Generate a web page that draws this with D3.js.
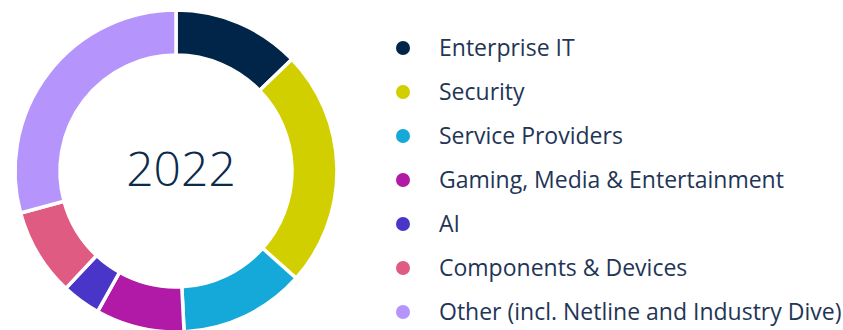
<!DOCTYPE html>
<html>
<head>
<meta charset="utf-8">
<script src="https://cdn.jsdelivr.net/npm/d3@7"></script>
<style>
  html, body { margin: 0; padding: 0; background: #fff; }
  svg { display: block; font-family: "Open Sans", sans-serif; }
</style>
</head>
<body>
<div id="chart"></div>
<script>
const categories = [
  "Enterprise IT",
  "Security",
  "Service Providers",
  "Gaming, Media & Entertainment",
  "AI",
  "Components & Devices",
  "Other (incl. Netline and Industry Dive)",
];
const shares = [12.8, 23.8, 12.6, 8.9, 3.9, 8.8, 29.2];
const colors = ["#002548", "#d2cf00", "#14a9d9", "#b01aa6", "#4a35c9", "#df5b81", "#b594fc"];
const centerLabel = "2022";

const width = 843;
const height = 330;
const cx = 176;
const cy = 171;
const outerR = 161;
const innerR = 116;

const svg = d3
  .select("#chart")
  .append("svg")
  .attr("width", width)
  .attr("height", height)
  .attr("viewBox", [0, 0, width, height]);

const data = categories.map((c, i) => ({ name: c, value: shares[i], color: colors[i] }));

const pie = d3.pie().sort(null).value((d) => d.value);
const arc = d3.arc().innerRadius(innerR).outerRadius(outerR);

svg
  .append("g")
  .attr("transform", `translate(${cx},${cy})`)
  .selectAll("path")
  .data(pie(data))
  .join("path")
  .attr("d", arc)
  .attr("fill", (d) => d.data.color)
  .attr("stroke", "#fff")
  .attr("stroke-width", 3.5)
  .attr("stroke-linejoin", "miter");

svg
  .append("text")
  .attr("x", cx + 5)
  .attr("y", cy + 15)
  .attr("text-anchor", "middle")
  .attr("font-size", 48)
  .attr("font-weight", 300)
  .attr("fill", "#0c2a4b")
  .text(centerLabel);

const legendY = d3
  .scalePoint()
  .domain(categories)
  .range([48, 312]);

const legend = svg
  .append("g")
  .selectAll("g")
  .data(data)
  .join("g")
  .attr("transform", (d) => `translate(403,${legendY(d.name)})`);

legend
  .append("circle")
  .attr("r", 7)
  .attr("fill", (d) => d.color);

legend
  .append("text")
  .attr("x", 36)
  .attr("dy", "0.36em")
  .attr("font-size", 23)
  .attr("fill", "#1f3656")
  .text((d) => d.name);
</script>
</body>
</html>
